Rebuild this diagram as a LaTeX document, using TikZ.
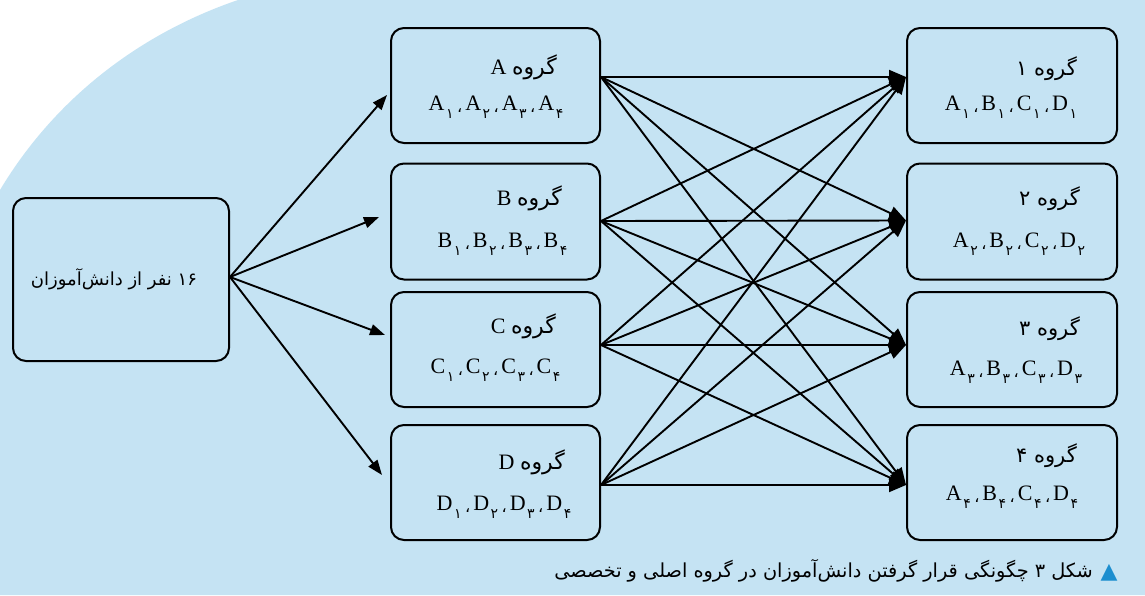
\documentclass[tikz,border=0pt]{standalone}
\usepackage{fontspec}
\setmainfont{Liberation Serif}
\newfontfamily\arabicfont[Script=Arabic]{DejaVu Sans}
\TeXXeTstate=1
\usetikzlibrary{arrows.meta}
\definecolor{bgblue}{RGB}{197,227,243}
\definecolor{triblue}{RGB}{27,142,207}
\newcommand\sbd[1]{\kern1.5pt\raisebox{-8.5pt}{\fontsize{14}{14}\arabicfont #1}}
\newcommand\cmm{\kern3.5pt\raisebox{-2pt}{\fontsize{16}{16}\arabicfont ،}\kern3pt}
\newcommand\grh{{\fontsize{22}{22}\arabicfont گروه}}
\begin{document}
\begin{tikzpicture}[x=1pt,y=-1pt,
  box/.style={draw=black, line width=2pt, rounded corners=13pt, fill=bgblue, inner sep=0pt},
  midbox/.style={box, minimum width=209pt, minimum height=115pt},
  sidebox/.style={box, minimum width=210pt, minimum height=115pt},
  txt/.style={inner sep=0pt, font=\fontsize{22}{24}\selectfont},
  arrL/.style={line width=1.9pt, -{Triangle[length=15pt,width=11pt]}},
  arrR/.style={line width=1.9pt, -{Triangle[length=17pt,width=14pt]}}]
\useasboundingbox (0,0) rectangle (1145,595);
\fill[white] (0,0) rectangle (1145,595);
\fill[bgblue] (0,190) .. controls (60,90) and (150,30) .. (238,0) -- (1145,0) -- (1145,595) -- (0,595) -- cycle;
% boxes
\node[box, minimum width=216pt, minimum height=163pt] (L) at (121,279.5) {};
\node[midbox] (A) at (495.5,85.5) {};
\node[midbox, minimum height=116pt] (B) at (495.5,221.5) {};
\node[midbox] (C) at (495.5,349.5) {};
\node[midbox] (D) at (495.5,482.5) {};
\node[sidebox] (G1) at (1012,85.5) {};
\node[sidebox, minimum height=116pt] (G2) at (1012,221.5) {};
\node[sidebox] (G3) at (1012,349.5) {};
\node[sidebox] (G4) at (1012,482.5) {};
% texts
\node[txt, anchor=base] (Lt) at (114,285) {\fontsize{18}{18}\arabicfont\beginR ۱۶ نفر از دانش‌آموزان\endR};
\node[txt, anchor=base east] (At) at (557,74) {\beginR\grh{} A\endR};
\node[txt, anchor=base] (Al) at (496,110) {A\sbd{۱}\cmm A\sbd{۲}\cmm A\sbd{۳}\cmm A\sbd{۴}};
\node[txt, anchor=base east] (Bt) at (562,205) {\beginR\grh{} B\endR};
\node[txt, anchor=base] (Bl) at (502.5,247) {B\sbd{۱}\cmm B\sbd{۲}\cmm B\sbd{۳}\cmm B\sbd{۴}};
\node[txt, anchor=base east] (Ct) at (556,333) {\beginR\grh{} C\endR};
\node[txt, anchor=base] (Cl) at (495.5,373) {C\sbd{۱}\cmm C\sbd{۲}\cmm C\sbd{۳}\cmm C\sbd{۴}};
\node[txt, anchor=base east] (Dt) at (565,469) {\beginR\grh{} D\endR};
\node[txt, anchor=base] (Dl) at (504,510) {D\sbd{۱}\cmm D\sbd{۲}\cmm D\sbd{۳}\cmm D\sbd{۴}};
\node[txt, anchor=base east] (G1t) at (1077,75) {\fontsize{21}{21}\arabicfont\beginR گروه ۱\endR};
\node[txt, anchor=base] (G1l) at (1011,110) {A\sbd{۱}\cmm B\sbd{۱}\cmm C\sbd{۱}\cmm D\sbd{۱}};
\node[txt, anchor=base east] (G2t) at (1080,205) {\fontsize{21}{21}\arabicfont\beginR گروه ۲\endR};
\node[txt, anchor=base] (G2l) at (1019,247) {A\sbd{۲}\cmm B\sbd{۲}\cmm C\sbd{۲}\cmm D\sbd{۲}};
\node[txt, anchor=base east] (G3t) at (1080,335) {\fontsize{21}{21}\arabicfont\beginR گروه ۳\endR};
\node[txt, anchor=base] (G3l) at (1016,375) {A\sbd{۳}\cmm B\sbd{۳}\cmm C\sbd{۳}\cmm D\sbd{۳}};
\node[txt, anchor=base east] (G4t) at (1077,462) {\fontsize{21}{21}\arabicfont\beginR گروه ۴\endR};
\node[txt, anchor=base] (G4l) at (1012,500) {A\sbd{۴}\cmm B\sbd{۴}\cmm C\sbd{۴}\cmm D\sbd{۴}};
% caption
\node[inner sep=0pt, anchor=base east] (cap) at (1093,577) {\fontsize{19.3}{19.3}\arabicfont\beginR شکل ۳ چگونگی قرار گرفتن دانش‌آموزان در گروه اصلی و تخصصی\endR};
\node[inner sep=0pt, anchor=base, text=triblue] (tri) at (1109,578) {\fontsize{22}{22}\arabicfont ▲};
% left arrows
\coordinate (Ls) at ([yshift=2.5pt]L.east);
\draw[arrL] (Ls) -- ([yshift=-9.5pt,xshift=-3pt]A.west);
\draw[arrL] (Ls) -- ([yshift=4.5pt,xshift=-11pt]B.west);
\draw[arrL] (Ls) -- ([yshift=14.5pt,xshift=-5pt]C.west);
\draw[arrL] (Ls) -- ([yshift=7.5pt,xshift=-8pt]D.west);
% sources and targets
\coordinate (sA) at ([yshift=8.5pt]A.east);
\coordinate (sB) at ([yshift=0.5pt]B.east);
\coordinate (sC) at ([yshift=4.5pt]C.east);
\coordinate (sD) at ([yshift=-2.5pt]D.east);
\coordinate (t1) at ([yshift=8.5pt]G1.west);
\coordinate (t2) at ([yshift=1pt]G2.west);
\coordinate (t3) at ([yshift=4.5pt]G3.west);
\coordinate (t4) at ([yshift=-2.5pt]G4.west);
\foreach \s in {sA,sB,sC,sD}{
  \foreach \t in {t1,t2,t3,t4}{
    \draw[arrR] (\s) -- (\t);
  }
}
\end{tikzpicture}
\end{document}
